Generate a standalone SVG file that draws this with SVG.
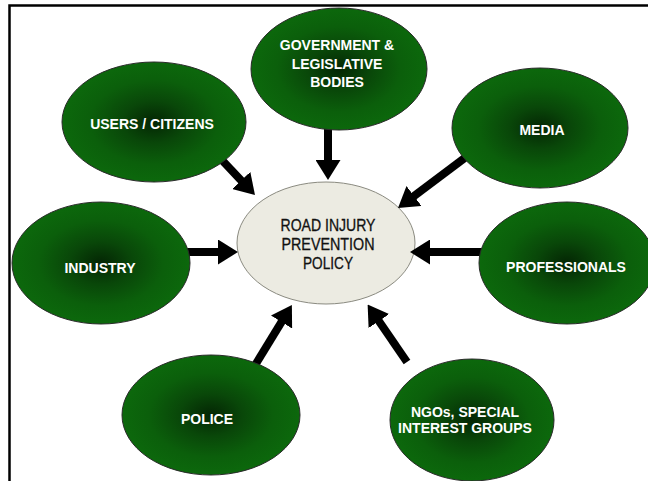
<svg xmlns="http://www.w3.org/2000/svg" width="648" height="481" viewBox="0 0 648 481">
<style>
.node ellipse.green{fill:url(#g);stroke:#2a2a2a;stroke-width:1}
.lbl{font-family:"Liberation Sans",Arial,sans-serif;font-weight:bold;font-size:14px;fill:#ffffff;text-anchor:middle}
.clbl{font-family:"Liberation Sans",Arial,sans-serif;font-size:16px;fill:#111;text-anchor:middle;stroke:#111;stroke-width:0.3}
.conn line{stroke:#000;stroke-width:8;marker-end:url(#ah)}
.frame{stroke:#000;stroke-width:2.5;fill:none}
</style>
<defs>
<radialGradient id="g" cx="50%" cy="50%" r="50%">
<stop offset="0%" stop-color="#042604"/>
<stop offset="35%" stop-color="#094709"/>
<stop offset="70%" stop-color="#0b5f0b"/>
<stop offset="100%" stop-color="#0c680c"/>
</radialGradient>
<marker id="ah" markerUnits="userSpaceOnUse" markerWidth="20" markerHeight="25" refX="2" refY="12.5" orient="auto">
<path d="M0,0 L20,12.5 L0,25 z" fill="#000"/>
</marker>
</defs>
<rect width="648" height="481" fill="#fff"/>
<path class="frame" d="M9.5,481 L9.5,5.5 L648,5.5"/>

<g id="center">
<ellipse cx="326" cy="243" rx="89" ry="61" fill="#ecebe2" stroke="#8a8a80" stroke-width="1"/>
<text class="clbl" x="328" y="231" textLength="95" lengthAdjust="spacingAndGlyphs">ROAD INJURY</text>
<text class="clbl" x="328" y="250" textLength="93" lengthAdjust="spacingAndGlyphs">PREVENTION</text>
<text class="clbl" x="328" y="269" textLength="50" lengthAdjust="spacingAndGlyphs">POLICY</text>
</g>

<g id="connectors" class="conn">
<line x1="220" y1="158" x2="242.6" y2="181.9"/>
<line x1="328" y1="125" x2="328" y2="162"/>
<line x1="466" y1="157" x2="412.4" y2="197.2"/>
<line x1="185" y1="252" x2="220" y2="252"/>
<line x1="485" y1="252" x2="428" y2="252"/>
<line x1="254" y1="367" x2="282.5" y2="320.3"/>
<line x1="407" y1="362" x2="377.8" y2="319.4"/>
</g>

<g id="users" class="node">
<ellipse class="green" cx="154" cy="122" rx="92" ry="60"/>
<text class="lbl" x="152" y="129">USERS / CITIZENS</text>
</g>
<g id="government" class="node">
<ellipse class="green" cx="339" cy="69" rx="88" ry="61"/>
<text class="lbl" x="337" y="50">GOVERNMENT &amp;</text>
<text class="lbl" x="337" y="69">LEGISLATIVE</text>
<text class="lbl" x="337" y="87">BODIES</text>
</g>
<g id="media" class="node">
<ellipse class="green" cx="540" cy="128" rx="88" ry="60"/>
<text class="lbl" x="542" y="135">MEDIA</text>
</g>
<g id="industry" class="node">
<ellipse class="green" cx="101" cy="263" rx="89" ry="61"/>
<text class="lbl" x="100" y="273">INDUSTRY</text>
</g>
<g id="professionals" class="node">
<ellipse class="green" cx="567" cy="263" rx="88" ry="61"/>
<text class="lbl" x="566" y="272">PROFESSIONALS</text>
</g>
<g id="police" class="node">
<ellipse class="green" cx="211" cy="415" rx="89" ry="60"/>
<text class="lbl" x="207" y="424">POLICE</text>
</g>
<g id="ngos" class="node">
<ellipse class="green" cx="472" cy="420" rx="82" ry="61"/>
<text class="lbl" x="465" y="417">NGOs, SPECIAL</text>
<text class="lbl" x="465" y="433">INTEREST GROUPS</text>
</g>
</svg>
